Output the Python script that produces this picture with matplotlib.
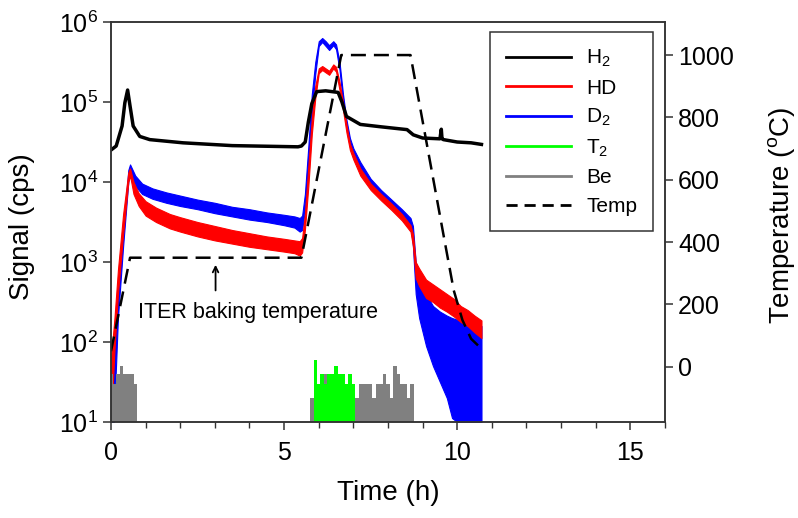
import numpy as np
import matplotlib
matplotlib.use("Agg")
import matplotlib.pyplot as plt
from matplotlib.lines import Line2D

plt.rcParams['font.family'] = ['Liberation Sans', 'DejaVu Sans']
plt.rcParams['mathtext.default'] = 'regular'

# ---- data (signal values as log10 of cps) ----
h2_t = [0.0, 0.15, 0.32, 0.4, 0.48, 0.55, 0.64, 0.83, 1.12, 2.08, 3.5, 5.4, 5.5, 5.61,
        5.7, 5.8, 5.94, 6.2, 6.56, 6.67, 6.8, 7.2, 7.8, 8.55, 8.73, 9.0, 9.5, 9.54,
        9.56, 9.6, 10.0, 10.4, 10.7]
h2_log = [4.40, 4.45, 4.70, 4.99, 5.15, 4.95, 4.70, 4.57, 4.53, 4.49, 4.455, 4.44, 4.45, 4.50,
          4.75, 4.98, 5.13, 5.14, 5.12, 5.0, 4.82, 4.72, 4.69, 4.655, 4.59, 4.55, 4.54, 4.66,
          4.54, 4.53, 4.50, 4.49, 4.47]

d2_t = [0.0, 0.08, 0.2, 0.35, 0.5, 0.55, 0.7, 0.9, 1.2, 1.6, 2.0, 2.5, 3.0, 3.5, 4.0, 4.5,
        5.0, 5.3, 5.45, 5.52, 5.6, 5.7, 5.8, 5.9, 6.0, 6.1, 6.2, 6.3, 6.42, 6.5, 6.6, 6.7,
        6.8, 6.9, 7.0, 7.2, 7.5, 7.8, 8.1, 8.4, 8.65, 8.72, 8.8, 8.9, 9.1, 9.3, 9.5, 9.7,
        9.85, 10.0, 10.2, 10.4, 10.6, 10.7]
d2_hi = [1.5, 1.8, 2.7, 3.4, 4.15, 4.22, 4.08, 3.98, 3.92, 3.87, 3.83, 3.78, 3.74, 3.69, 3.66, 3.62,
         3.59, 3.57, 3.55, 3.58, 3.85, 4.45, 5.1, 5.5, 5.76, 5.8, 5.76, 5.71, 5.76, 5.72, 5.5, 5.1,
         4.78, 4.55, 4.42, 4.25, 4.04, 3.9, 3.78, 3.66, 3.55, 3.45, 3.0, 2.85, 2.6, 2.45, 2.38, 2.33,
         2.3, 2.28, 2.26, 2.23, 2.2, 2.2]
d2_lo = [1.0, 1.0, 2.3, 3.2, 4.0, 4.14, 3.95, 3.85, 3.79, 3.74, 3.70, 3.66, 3.61, 3.57, 3.53, 3.50,
         3.46, 3.43, 3.38, 3.4, 3.65, 4.2, 4.85, 5.35, 5.7, 5.75, 5.7, 5.65, 5.71, 5.66, 5.4, 5.0,
         4.7, 4.48, 4.35, 4.17, 3.96, 3.82, 3.7, 3.58, 3.47, 3.2, 2.6, 2.3, 1.95, 1.7, 1.5, 1.3,
         1.05, 1.0, 1.0, 1.0, 1.0, 1.0]

hd_t = [0.0, 0.1, 0.2, 0.35, 0.5, 0.55, 0.65, 0.8, 1.0, 1.3, 1.7, 2.0, 2.5, 3.0, 3.5, 4.0,
        4.5, 5.0, 5.3, 5.45, 5.52, 5.6, 5.7, 5.8, 5.9, 6.0, 6.1, 6.2, 6.3, 6.42, 6.5, 6.6,
        6.7, 6.8, 6.9, 7.0, 7.2, 7.5, 7.8, 8.1, 8.4, 8.65, 8.72, 8.8, 8.9, 9.1, 9.3, 9.5,
        9.7, 9.9, 10.1, 10.3, 10.5, 10.7]
hd_hi = [1.8, 2.3, 2.9, 3.6, 4.12, 4.17, 4.0, 3.86, 3.76, 3.68, 3.6, 3.56, 3.5, 3.45, 3.4, 3.36,
         3.32, 3.29, 3.27, 3.26, 3.3, 3.6, 4.2, 4.8, 5.2, 5.42, 5.45, 5.42, 5.39, 5.47, 5.44, 5.25,
         5.0, 4.72, 4.48, 4.36, 4.17, 3.98, 3.85, 3.73, 3.6, 3.46, 3.35, 3.0, 2.92, 2.78, 2.72, 2.66,
         2.6, 2.54, 2.45, 2.4, 2.33, 2.27]
hd_lo = [1.0, 1.9, 2.6, 3.35, 4.0, 4.08, 3.85, 3.7, 3.58, 3.5, 3.42, 3.38, 3.32, 3.27, 3.23, 3.19,
         3.16, 3.13, 3.11, 3.08, 3.12, 3.4, 3.95, 4.6, 5.05, 5.36, 5.4, 5.37, 5.34, 5.42, 5.38, 5.15,
         4.9, 4.62, 4.4, 4.28, 4.08, 3.9, 3.77, 3.65, 3.52, 3.38, 3.2, 2.8, 2.7, 2.55, 2.5, 2.43,
         2.38, 2.32, 2.25, 2.2, 2.12, 2.05]

# T2 and Be counts (cps), 0.1 h bins
t2_t = [5.8, 5.9, 6.0, 6.1, 6.2, 6.3, 6.4, 6.5, 6.6, 6.7, 6.8, 6.9, 7.0, 7.1]
t2_cps = [10, 60, 30, 40, 30, 40, 40, 50, 40, 40, 30, 40, 30, 10]

be_t1 = [0.0, 0.1, 0.2, 0.3, 0.4, 0.5, 0.6, 0.7, 0.8]
be_cps1 = [40, 30, 40, 50, 40, 40, 40, 30, 10]
be_t2 = [5.7, 5.8, 5.9, 6.0, 6.1, 6.2, 6.3, 6.4, 6.5, 6.6, 6.7, 6.8, 6.9, 7.0, 7.1, 7.2,
         7.3, 7.4, 7.5, 7.6, 7.7, 7.8, 7.9, 8.0, 8.1, 8.2, 8.3, 8.4, 8.5, 8.6, 8.7, 8.8]
be_cps2 = [10, 20, 30, 30, 30, 40, 30, 40, 30, 40, 20, 20, 30, 30, 20, 30,
           30, 30, 30, 20, 30, 30, 40, 30, 20, 50, 40, 30, 30, 20, 30, 10]

# temperature program (deg C)
temp_t = [0.0, 0.55, 5.5, 6.65, 8.65, 9.6, 9.9, 10.15, 10.4, 10.7]
temp_c = [50, 350, 350, 1000, 1000, 425, 245, 150, 90, 58]

fig = plt.figure(figsize=(7.98, 5.18), dpi=100)
ax = fig.add_axes([0.1391, 0.1853, 0.6942, 0.7722])

ax.fill_between(d2_t, 10 ** np.array(d2_lo), 10 ** np.array(d2_hi), color='#0000ff', lw=0.8)
ax.fill_between(hd_t, 10 ** np.array(hd_lo), 10 ** np.array(hd_hi), color='#ff0000', lw=0.8)
ax.plot(h2_t, 10 ** np.array(h2_log), color='black', lw=2.5)
ax.fill_between(be_t1, 10, be_cps1, step='mid', color='#808080', lw=0)
ax.fill_between(be_t2, 10, be_cps2, step='mid', color='#808080', lw=0)
ax.fill_between(t2_t, 10, t2_cps, step='mid', color='#00ff00', lw=0)

ax.set_yscale('log')
ax.set_ylim(10, 1e6)
ax.set_xlim(0, 16)
ax.set_xticks([0, 5, 10, 15])
ax.set_xticks(np.arange(0, 17, 1), minor=True)
ax.yaxis.set_minor_locator(matplotlib.ticker.NullLocator())

ax.annotate('', xy=(3.02, 10 ** 3.0), xytext=(3.02, 10 ** 2.61),
            arrowprops=dict(arrowstyle='->', lw=1.3, color='black'))
ax.text(0.78, 10 ** 2.30, 'ITER baking temperature', fontsize=15.5, ha='left', va='baseline')

ax2 = ax.twinx()
ax2.plot(temp_t, temp_c, color='black', lw=1.8, dashes=(6, 3.2))
ax2.set_ylim(-177, 1106)
ax2.set_yticks([0, 200, 400, 600, 800, 1000])

for a in (ax, ax2):
    for s in a.spines.values():
        s.set_linewidth(1.1)
        s.set_color('#333333')
    a.tick_params(which='major', direction='out', length=6, width=1.1, labelsize=18, color='#333333')
    a.tick_params(which='minor', direction='out', length=4, width=1.0, color='#333333')
ax.tick_params(axis='x', pad=8)

fig.text(0.027, 0.562, 'Signal (cps)', rotation=90, ha='center', va='center', fontsize=20)
fig.text(0.979, 0.585, 'Temperature ($^o$C)', rotation=90, ha='center', va='center', fontsize=20)
fig.text(0.486, 0.048, 'Time (h)', ha='center', va='center', fontsize=20)

handles = [Line2D([], [], color='black', lw=2),
           Line2D([], [], color='#ff0000', lw=2),
           Line2D([], [], color='#0000ff', lw=2),
           Line2D([], [], color='#00ff00', lw=2),
           Line2D([], [], color='#808080', lw=2),
           Line2D([], [], color='black', lw=2, dashes=(4, 2.5))]
labels = ['H$_2$', 'HD', 'D$_2$', 'T$_2$', 'Be', 'Temp']
leg = ax2.legend(handles, labels, loc='upper right', bbox_to_anchor=(0.978, 0.974),
                 borderaxespad=0, fontsize=15, handlelength=3.1, handletextpad=0.75,
                 labelspacing=0.45, fancybox=False, framealpha=1, edgecolor='#333333',
                 borderpad=0.75)
leg.get_frame().set_linewidth(1.1)

fig.savefig('out.png', dpi=100)
